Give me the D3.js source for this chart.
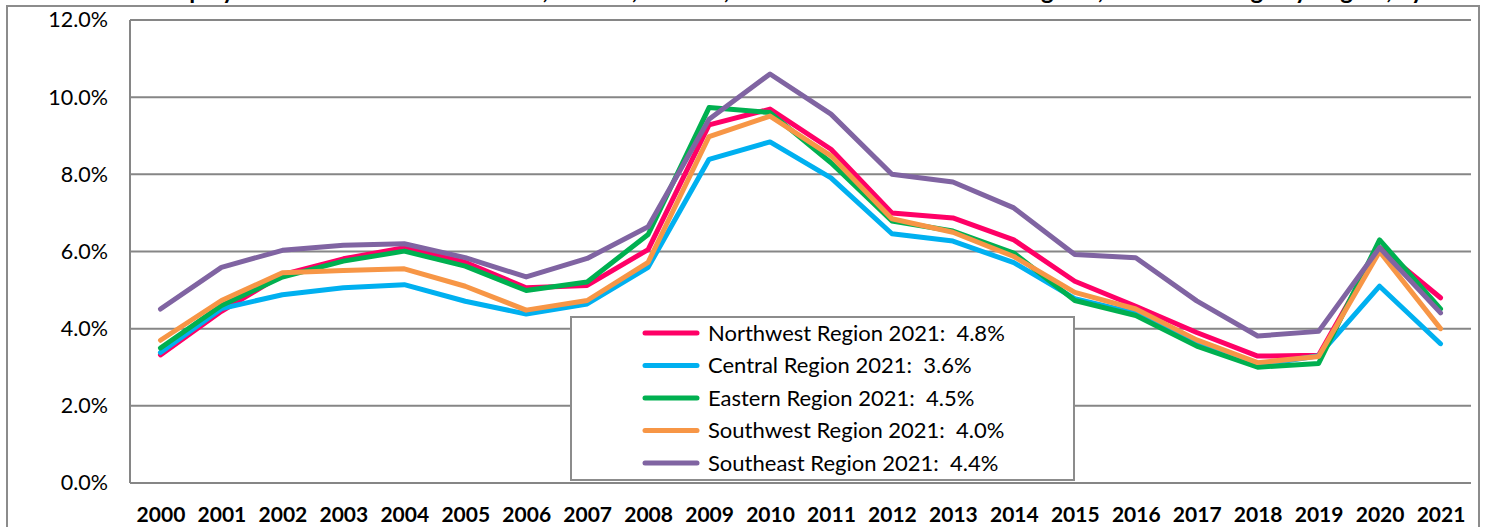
<!DOCTYPE html>
<html>
<head>
<meta charset="utf-8">
<script src="https://cdn.jsdelivr.net/npm/d3@7"></script>
<style>
  html, body { margin: 0; padding: 0; background: #fff; }
  svg { display: block; font-family: Lato, "Open Sans", sans-serif; }
</style>
</head>
<body>
<div id="chart1"></div>
<script>

const years = ["2000","2001","2002","2003","2004","2005","2006","2007","2008","2009","2010",
               "2011","2012","2013","2014","2015","2016","2017","2018","2019","2020","2021"];

// unemployment rate (%) by region
const northwest = [3.32,4.45,5.40,5.81,6.10,5.72,5.06,5.12,6.05,9.28,9.69,8.65,7.00,6.87,6.30,5.23,4.58,3.90,3.29,3.31,6.10,4.80];
const central   = [3.38,4.52,4.88,5.06,5.14,4.71,4.38,4.64,5.59,8.39,8.84,7.91,6.46,6.27,5.71,4.78,4.40,3.60,3.05,3.30,5.10,3.61];
const eastern   = [3.50,4.60,5.34,5.75,6.01,5.62,4.99,5.21,6.44,9.73,9.60,8.30,6.79,6.53,5.96,4.73,4.34,3.55,3.00,3.10,6.30,4.51];
const southwest = [3.70,4.73,5.45,5.51,5.55,5.10,4.48,4.73,5.72,8.98,9.51,8.48,6.85,6.50,5.87,4.94,4.51,3.71,3.12,3.28,6.00,4.00];
const southeast = [4.51,5.59,6.03,6.16,6.20,5.84,5.34,5.82,6.64,9.43,10.60,9.56,8.00,7.80,7.13,5.92,5.84,4.72,3.81,3.93,6.10,4.41];

const seriesNames  = ["Northwest Region 2021:  4.8%","Central Region 2021:  3.6%","Eastern Region 2021:  4.5%",
                      "Southwest Region 2021:  4.0%","Southeast Region 2021:  4.4%"];
const seriesColors = ["#ff0066","#00b0f0","#00b050","#f79646","#8064a2"];
const yTicks = [0,2,4,6,8,10,12];

const width = 1488;
const height = 527;
const margin = {top: 20, right: 17, bottom: 44, left: 130};

const svg = d3.select("#chart1").append("svg")
    .attr("width", width)
    .attr("height", height);

// title (mostly cut off at the top of the picture, as in the original)
svg.append("text")
    .attr("x", 800)
    .attr("y", -1)
    .attr("text-anchor", "middle")
    .attr("font-weight", "bold")
    .attr("font-size", 24)
    .text("Unemployment Rate for the Northwest, Central, Eastern, Southwest and Southeast Regions, Annual Average by Region, by Year");

// outer frame
svg.append("rect")
    .attr("x", 7).attr("y", 6)
    .attr("width", 1472).attr("height", 540)
    .attr("fill", "none")
    .attr("stroke", "#8c8c8c")
    .attr("stroke-width", 2);

const x = d3.scalePoint()
    .domain(years)
    .range([margin.left, width - margin.right])
    .padding(0.5);

const y = d3.scaleLinear()
    .domain([0, 12])
    .range([height - margin.bottom, margin.top]);

// gridlines
svg.append("g")
  .selectAll("line")
  .data(yTicks)
  .join("line")
    .attr("x1", margin.left)
    .attr("x2", width - margin.right)
    .attr("y1", d => y(d))
    .attr("y2", d => y(d))
    .attr("stroke", "#868686")
    .attr("stroke-width", 2);

// left axis line
svg.append("line")
    .attr("x1", margin.left).attr("x2", margin.left)
    .attr("y1", y(12)).attr("y2", y(0))
    .attr("stroke", "#868686")
    .attr("stroke-width", 2);

// y axis labels
const yAxis = svg.append("g")
    .attr("transform", "translate(" + (margin.left - 22) + ",0)")
    .call(d3.axisLeft(y).tickValues(yTicks).tickFormat(d => d.toFixed(1) + "%").tickSize(0).tickPadding(0));
yAxis.select(".domain").remove();
yAxis.selectAll("text")
    .attr("font-family", "Lato, sans-serif")
    .attr("font-size", 21.5)
    .attr("fill", "#000");

// x axis labels
const xAxis = svg.append("g")
    .attr("transform", "translate(0," + (height - margin.bottom) + ")")
    .call(d3.axisBottom(x).tickSize(0).tickPadding(24));
xAxis.select(".domain").remove();
xAxis.selectAll("text")
    .attr("font-family", "Lato, sans-serif")
    .attr("font-weight", "bold")
    .attr("font-size", 21)
    .attr("fill", "#000");

// lines
const allSeries = [northwest, central, eastern, southwest, southeast];
const line = d3.line()
    .x((d, i) => x(years[i]))
    .y(d => y(d));

svg.append("g")
  .selectAll("path")
  .data(allSeries)
  .join("path")
    .attr("fill", "none")
    .attr("stroke", (d, i) => seriesColors[i])
    .attr("stroke-width", 5)
    .attr("stroke-linejoin", "round")
    .attr("stroke-linecap", "round")
    .attr("d", line);

// legend
const legend = svg.append("g");
legend.append("rect")
    .attr("x", 571).attr("y", 317)
    .attr("width", 503).attr("height", 163)
    .attr("fill", "#fff")
    .attr("stroke", "#8c8c8c")
    .attr("stroke-width", 2);

const item = legend.selectAll("g.item")
  .data(seriesNames)
  .join("g")
    .attr("class", "item")
    .attr("transform", (d, i) => "translate(0," + (333 + i * 32.5) + ")");

item.append("line")
    .attr("x1", 645).attr("x2", 697)
    .attr("stroke", (d, i) => seriesColors[i])
    .attr("stroke-width", 5)
    .attr("stroke-linecap", "round");

item.append("text")
    .attr("x", 708)
    .attr("dy", "0.35em")
    .attr("font-size", 22)
    .attr("fill", "#000")
    .style("white-space", "pre")
    .text(d => d);

</script>
</body>
</html>
